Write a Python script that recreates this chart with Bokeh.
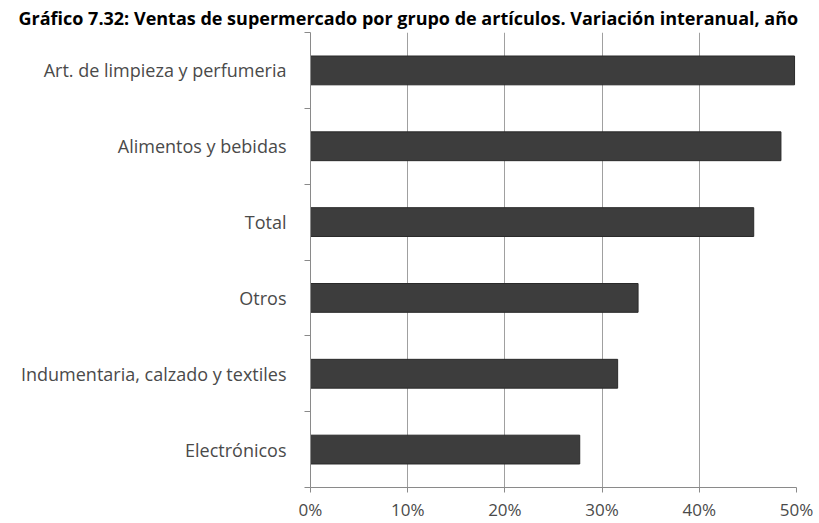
from bokeh.plotting import figure
from bokeh.models import FixedTicker, NumeralTickFormatter, ColumnDataSource, Title, Range1d
from bokeh.embed import file_html
from bokeh.resources import INLINE

# Data (top to bottom as in the chart)
categories = [
    "Art. de limpieza y perfumeria",
    "Alimentos y bebidas",
    "Total",
    "Otros",
    "Indumentaria, calzado y textiles",
    "Electrónicos",
]
values = [0.498, 0.484, 0.456, 0.337, 0.316, 0.277]
x_ticks = [0.0, 0.1, 0.2, 0.3, 0.4, 0.5]
title_text = "Gráfico 7.32: Ventas de supermercado por grupo de artículos. Variación interanual, año"

n = len(categories)
# position from bottom: last category at bottom
ypos = [n - 1 - i + 0.5 for i in range(n)]

src = ColumnDataSource(dict(cat=categories, val=values, y=ypos))

p = figure(width=819, height=523, output_backend="svg", toolbar_location=None,
           x_range=Range1d(0, 0.5), y_range=Range1d(0, n),
           min_border_left=310, min_border_right=23, min_border_top=0,
           min_border_bottom=35)

p.title = Title(text=title_text, align="left", offset=-292,
                text_font="Open Sans", text_font_size="18px",
                text_font_style="bold", text_color="#000000",
                standoff=6)

p.hbar(y="y", right="val", left=0, height=0.38, source=src,
       fill_color="#3d3d3d", line_color="#2a2a2a", line_width=1)

# x axis
p.xaxis.ticker = FixedTicker(ticks=x_ticks)
p.xaxis.formatter = NumeralTickFormatter(format="0%")
p.xaxis.major_tick_out = 5
p.xaxis.major_tick_in = 0
p.xaxis.minor_tick_out = 0
p.xaxis.minor_tick_in = 0
p.xaxis.axis_line_color = "#8a8a8a"
p.xaxis.major_tick_line_color = "#8a8a8a"
p.xaxis.major_label_text_font = "Open Sans"
p.xaxis.major_label_text_font_size = "17px"
p.xaxis.major_label_text_color = "#4a4a4a"
p.xaxis.major_label_standoff = 5

# y axis: labels at centers, tick marks at boundaries
p.yaxis.ticker = FixedTicker(ticks=ypos, minor_ticks=list(range(n + 1)))
p.yaxis.major_label_overrides = {y: c for y, c in zip(ypos, categories)}
p.yaxis.major_tick_out = 0
p.yaxis.major_tick_in = 0
p.yaxis.minor_tick_out = 6
p.yaxis.minor_tick_in = 0
p.yaxis.minor_tick_line_color = "#8a8a8a"
p.yaxis.axis_line_color = "#8a8a8a"
p.yaxis.major_label_text_font = "Open Sans"
p.yaxis.major_label_text_font_size = "18px"
p.yaxis.major_label_text_color = "#4a4a4a"
p.yaxis.major_label_standoff = 18

p.xgrid.grid_line_color = "#a0a0a0"
p.xgrid.grid_line_width = 1
p.ygrid.grid_line_color = None
p.outline_line_color = None
p.background_fill_color = "white"
p.border_fill_color = "white"

open("out.html", "w").write(file_html(p, INLINE))
